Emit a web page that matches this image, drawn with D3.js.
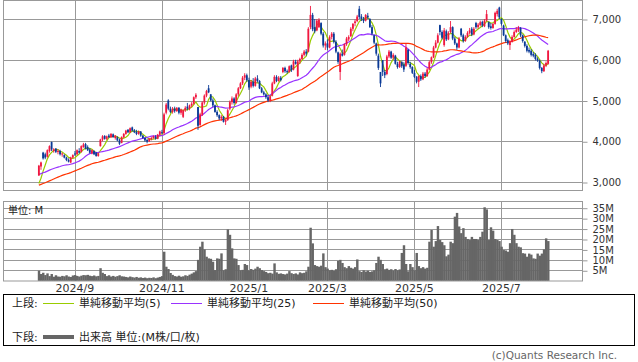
<!DOCTYPE html>
<html>
<head>
<meta charset="utf-8">
<script src="https://cdn.jsdelivr.net/npm/d3@7"></script>
<style>
  body { margin: 0; background: #fff; }
  text { font-family: "DejaVu Sans", "Noto Sans CJK JP", sans-serif; }
</style>
</head>
<body>
<div id="chart"></div>
<script>
// DATA ------------------------------------------------------------------
// first trading day shown, and the exchange holidays that fall on weekdays
const startDate = "2024-08-07";
const holidays = ["2024-08-12", "2024-09-16", "2024-09-23", "2024-10-14", "2024-11-04",
  "2024-12-31", "2025-01-01", "2025-01-02", "2025-01-03", "2025-01-13", "2025-02-11",
  "2025-02-24", "2025-03-20", "2025-04-29", "2025-05-05", "2025-05-06", "2025-07-21"];

// closes of the 49 sessions before the window (estimated from where the averages start)
const preCloses = [2580, 2620, 2600, 2650, 2700, 2680, 2640, 2610, 2590, 2630,
  2660, 2700, 2720, 2690, 2650, 2620, 2640, 2680, 2710, 2740, 2700, 2670, 2690, 2720, 2680,
  3020, 3080, 3150, 3200, 3260, 3300, 3280, 3320, 3350, 3300, 3260, 3300, 3340, 3380, 3320,
  3260, 3200, 3240, 3180, 3120, 2850, 2700, 2860, 3020];

// daily [open, high, low, close]
const candles = [
  [3160,3420,3150,3400],[3380,3500,3300,3480],[3720,3740,3550,3580],[3680,3720,3560,3600],[3620,3800,3600,3780],
  [3760,3900,3720,3880],[3980,3990,3760,3800],[3760,3830,3720,3800],[3820,3830,3710,3740],[3740,3800,3680,3760],
  [3760,3790,3650,3680],[3680,3720,3620,3700],[3660,3680,3580,3600],[3600,3620,3510,3540],[3540,3580,3480,3500],
  [3480,3620,3460,3600],[3600,3680,3580,3660],[3700,3760,3640,3680],[3680,3800,3660,3780],[3760,3830,3700,3720],
  [3740,3900,3720,3880],[3860,3960,3840,3920],[3930,3960,3800,3820],[3860,3900,3760,3780],[3800,3830,3700,3720],
  [3700,3800,3680,3780],[3760,3780,3660,3680],[3720,3740,3620,3640],[3640,3720,3620,3700],[3880,4060,3870,4040],
  [4040,4150,4000,4120],[4130,4150,4040,4060],[4060,4140,4030,4120],[4140,4180,4080,4100],[4100,4200,4080,4180],
  [4170,4190,4090,4100],[4080,4150,4040,4140],[4100,4120,4000,4020],[4020,4060,3910,3940],[3960,4120,3950,4100],
  [4100,4200,4080,4180],[4180,4280,4160,4260],[4280,4300,4200,4220],[4220,4340,4200,4320],[4340,4360,4240,4260],
  [4260,4300,4200,4220],[4230,4280,4150,4180],[4180,4260,4160,4240],[4240,4250,4110,4140],[4140,4150,4060,4080],
  [4080,4100,3990,4020],[4030,4060,3950,3990],[4000,4080,3980,4060],[4050,4110,4020,4080],[4080,4140,4060,4120],
  [4110,4150,4040,4060],[4060,4180,4050,4160],[4160,4260,4140,4240],[4220,4280,4180,4200],[4200,4700,4160,4660],
  [4700,4940,4660,4900],[5000,5030,4760,4800],[4800,4850,4690,4720],[4720,4840,4680,4800],[4800,4850,4700,4740],
  [4740,4840,4720,4820],[4820,4840,4660,4700],[4700,4800,4650,4780],[4600,4780,4570,4760],[4760,4860,4720,4820],
  [4850,4940,4760,4800],[4800,4900,4760,4880],[4880,4960,4840,4920],[4920,5100,4900,5080],[5080,5180,5040,5140],
  [4840,4840,4280,4380],[4400,4700,4380,4660],[4650,4980,4620,4950],[4950,5150,4900,5120],[5120,5260,5080,5230],
  [5300,5380,5180,5200],[5150,5160,4980,5000],[5000,5050,4840,4880],[4880,4900,4700,4720],[4720,4760,4600,4640],
  [4640,4660,4520,4560],[4560,4640,4500,4600],[4600,4620,4460,4480],[4480,4540,4400,4520],[4520,4800,4500,4760],
  [4800,5000,4760,4960],[4960,5100,4900,5050],[5050,5080,4900,4940],[4940,5180,4920,5150],[5150,5330,5100,5300],
  [5300,5450,5280,5420],[5420,5600,5380,5560],[5560,5670,5500,5620],[5620,5660,5460,5500],[5500,5560,5260,5320],
  [5340,5500,5300,5460],[5460,5550,5320,5360],[5360,5580,5340,5540],[5540,5620,5440,5480],[5480,5500,5280,5300],
  [5300,5330,5180,5200],[5200,5240,5120,5150],[5150,5180,5040,5080],[5080,5120,4960,5000],[5000,5130,4960,5100],
  [5120,5460,5100,5420],[5420,5620,5400,5580],[5580,5620,5450,5480],[5480,5600,5460,5560],[5560,5600,5470,5500],
  [5700,5820,5670,5800],[5800,5830,5680,5720],[5720,5760,5660,5700],[5700,5860,5680,5840],[5860,5880,5700,5740],
  [5760,6000,5740,5960],[5950,6000,5880,5900],[5600,6000,5580,5960],[5960,6050,5900,6020],[6020,6160,6000,6120],
  [6120,6240,6080,6200],[6200,6260,6100,6150],[6200,6800,6180,6760],[6800,7320,6750,7100],[7100,7150,6700,6750],
  [6800,7000,6650,6700],[6720,7000,6700,6960],[6800,7020,6780,6980],[6900,6920,6600,6640],[6640,6680,6300,6350],
  [6350,6450,6240,6400],[6400,6500,6240,6300],[6300,6600,6280,6560],[6560,6680,6500,6640],[6640,6680,6400,6440],
  [6440,6480,6160,6200],[6180,6200,5900,5950],[5700,6180,5500,6150],[6150,6250,6080,6100],[6120,6400,6100,6380],
  [6380,6560,6340,6520],[6500,6600,6460,6560],[6580,6800,6560,6760],[6760,6900,6700,6880],[6900,6990,6820,6940],
  [6950,7100,6920,7060],[7250,7320,7000,7050],[7060,7120,6950,7000],[7000,7050,6900,6950],[6960,7120,6940,7100],
  [7080,7150,7000,7040],[7000,7020,6780,6800],[6800,6850,6600,6640],[6600,6620,6380,6420],[6400,6420,6100,6150],
  [6100,6150,5750,5800],[5700,5700,5330,5420],[5990,5990,5600,5700],[5700,5750,5550,5620],[5650,6120,5620,6080],
  [6080,6240,6040,6200],[6200,6220,6020,6050],[6050,6160,6000,6120],[6100,6120,5880,5900],[5900,5950,5780,5820],
  [5820,5980,5800,5950],[5950,5960,5800,5840],[5880,5940,5700,5760],[5850,6410,5820,6300],[6250,6260,5880,5920],
  [5900,5950,5780,5820],[5820,5840,5650,5680],[5680,5750,5550,5580],[5580,5600,5420,5460],[5460,5620,5330,5600],
  [5600,5640,5480,5520],[5520,5700,5500,5660],[5660,5700,5560,5600],[5600,5800,5580,5760],[5760,5980,5740,5940],
  [5940,6080,5900,6060],[6060,6340,6040,6300],[6300,6480,6280,6420],[6420,6650,6400,6600],[6850,6860,6600,6680],
  [6680,6720,6500,6540],[6360,6780,6320,6720],[6700,6740,6460,6500],[6500,6700,6480,6660],[6680,6950,6650,6800],
  [6800,6820,6480,6520],[6520,6560,6360,6400],[6400,6420,6240,6300],[6300,6560,6280,6520],[6760,6780,6560,6600],
  [6600,6640,6420,6460],[6460,6600,6440,6560],[6560,6700,6540,6660],[6660,6780,6620,6720],[6760,6800,6580,6620],
  [6620,6800,6600,6760],[6900,6930,6760,6800],[6800,6900,6760,6860],[6850,6960,6820,6920],[6930,6960,6800,6840],
  [6820,7000,6800,6960],[6960,7220,6940,7120],[6920,6940,6760,6800],[6820,6900,6740,6780],[6780,6900,6760,6880],
  [6880,7180,6860,7150],[7120,7250,7060,7200],[7280,7300,7000,7040],[7000,7020,6840,6880],[6840,6860,6580,6600],
  [6600,6620,6420,6460],[6480,6520,6360,6400],[6360,6480,6240,6440],[6440,6600,6420,6560],[6560,6720,6540,6680],
  [6680,6800,6660,6740],[6720,6830,6680,6780],[6780,6800,6560,6600],[6600,6620,6420,6460],[6440,6460,6300,6340],
  [6340,6380,6180,6220],[6240,6300,6160,6200],[6220,6260,6080,6120],[6140,6190,6060,6100],[6120,6160,5980,6020],
  [6020,6060,5950,5980],[5980,6000,5760,5800],[5800,5820,5670,5720],[5720,5900,5700,5860],[5860,5960,5820,5920],
  [5900,6240,5880,6220]
];

// daily volume, millions of shares
const volume = [
  4.8,3.2,3.8,2.7,3.5,2.2,3.2,1.9,2.6,2.0, 1.9,2.3,2.1,2.6,2.0,1.8,2.5,2.7,2.3,2.0,
  2.4,2.7,2.6,2.8,2.4,2.2,2.5,2.1,2.3,6.0, 3.8,3.2,2.2,2.6,2.0,2.3,1.9,2.2,2.6,2.1,
  2.0,1.8,1.6,2.0,1.7,1.5,1.8,1.4,1.6,1.3, 1.5,1.2,1.4,1.3,1.6,1.2,1.5,1.8,2.2,13.9,
  6.7,5.6,3.7,2.8,2.2,2.0,2.4,1.9,2.1,2.6, 2.3,2.9,3.4,4.0,4.6,10.0,16.3,18.7,15.0,11.5,
  10.7,10.5,9.1,5.1,10.7,10.5,13.1,5.0,5.5,24.6, 22.0,15.5,10.7,10.5,7.5,5.0,5.2,8.0,7.5,5.0,
  5.6,5.2,5.8,6.7,6.0,5.1,4.6,4.2,3.6,3.8, 3.4,8.3,4.0,3.3,3.5,3.2,3.0,3.4,4.6,3.6,
  3.2,3.5,3.0,4.0,3.6,3.8,4.5,6.7,25.4,17.9, 7.5,7.0,6.7,7.2,13.1,6.5,5.8,5.0,5.2,4.8,
  5.5,9.5,10.0,8.5,6.5,6.0,7.0,6.2,5.8,6.5, 10.2,4.6,4.2,5.0,4.4,4.8,4.2,4.5,5.0,8.5,
  11.5,10.0,8.0,5.5,5.8,5.2,5.5,4.9,5.6,5.0, 5.4,13.3,17.0,8.0,4.5,8.0,6.5,5.0,13.3,7.0,
  6.0,6.5,5.8,6.2,18.7,24.3,16.3,19.0,26.2,19.5, 18.5,17.0,11.7,12.5,18.7,18.0,30.7,32.5,26.0,22.8,
  25.2,21.0,20.0,19.5,21.0,20.0,20.0,19.5,21.0,23.5, 35.2,34.2,19.5,25.6,24.0,20.0,19.5,19.0,16.3,14.7,
  14.5,13.9,18.0,24.8,22.0,18.0,16.3,16.0,13.2,13.0, 11.5,13.0,12.5,10.7,10.5,13.0,12.0,13.0,15.0,20.3,
  19.0
];

const maPeriods = [5, 25, 50];
const maColors = ["#99cc00", "#9933ff", "#ff3300"];
const priceTicks = [3000, 4000, 5000, 6000, 7000];
const volumeTicks = [5, 10, 15, 20, 25, 30, 35];

// DATES -----------------------------------------------------------------
const parse = d3.timeParse("%Y-%m-%d");
const fmtDay = d3.timeFormat("%Y-%m-%d");
const dates = [];
let day = parse(startDate);
while (dates.length < candles.length) {
    const wd = day.getDay();
    if (wd !== 0 && wd !== 6 && !holidays.includes(fmtDay(day))) dates.push(day);
    day = d3.timeDay.offset(day, 1);
}
// first session of every second month (Sep, Nov, Jan ...)
const tickDates = dates.filter((d, i) => i > 0 && d.getMonth() !== dates[i - 1].getMonth() && d.getMonth() % 2 === 0);

// CHART -----------------------------------------------------------------
const width = 638, height = 362;
const left = 3.5, right = 582.5;
const priceTop = 0.5, priceBottom = 190.5;
const volTop = 201.5, volBottom = 281;
const gridColor = "#999";

const svg = d3.select("#chart")
    .append("svg")
    .attr("width", width)
    .attr("height", height);

svg.append("rect").attr("width", width).attr("height", height).attr("fill", "#fff");

// scales
const x = d3.scaleBand()
    .domain(dates)
    .range([37.8, 549.2])
    .padding(0);
const cx = d => x(d) + x.bandwidth() / 2;

const y = d3.scaleLinear()
    .domain([2804, 7466])
    .range([190, 0]);

const yVol = d3.scaleLinear()
    .domain([0, 35])
    .range([280.7, 207.7]);

const snap = v => Math.round(v) + 0.5;

// grid for both panels
function grid(top, bottom, ticks, scale) {
    const g = svg.append("g").attr("stroke", gridColor).attr("stroke-width", 1);
    g.selectAll(".h").data(ticks).join("line")
        .attr("x1", left).attr("x2", right)
        .attr("y1", d => snap(scale(d))).attr("y2", d => snap(scale(d)));
    g.selectAll(".v").data(tickDates).join("line")
        .attr("x1", d => snap(cx(d))).attr("x2", d => snap(cx(d)))
        .attr("y1", top).attr("y2", bottom);
    g.append("rect")
        .attr("x", left).attr("y", top)
        .attr("width", right - left).attr("height", bottom - top)
        .attr("fill", "none");
}
grid(priceTop, priceBottom, priceTicks, y);
grid(volTop, volBottom, volumeTicks, yVol);

// right axes
function styleAxis(g, size) {
    g.select(".domain").remove();
    g.selectAll(".tick line").attr("stroke", gridColor);
    g.selectAll(".tick text").attr("fill", "#333").attr("font-size", size)
        .attr("font-family", '"DejaVu Sans", sans-serif');
}
svg.append("g")
    .attr("transform", "translate(" + right + ",0.5)")
    .call(d3.axisRight(y).tickValues(priceTicks).tickSize(5).tickPadding(5).tickFormat(d3.format(",")))
    .call(g => styleAxis(g, 10));

svg.append("g")
    .attr("transform", "translate(" + right + ",0.5)")
    .call(d3.axisRight(yVol).tickValues(volumeTicks).tickSize(5).tickPadding(5).tickFormat(d => d + "M"))
    .call(g => styleAxis(g, 10));

svg.append("g")
    .attr("transform", "translate(0," + volBottom + ")")
    .call(d3.axisBottom(x).tickValues(tickDates).tickSize(0).tickPadding(3).tickFormat(d3.timeFormat("%Y/%-m")))
    .call(g => styleAxis(g, 11));

// volume bars
svg.append("g")
    .attr("fill", "#666")
    .selectAll("rect")
    .data(volume)
    .join("rect")
    .attr("x", (d, i) => x(dates[i]))
    .attr("width", x.bandwidth() + 0.3)
    .attr("y", d => yVol(d))
    .attr("height", d => yVol(0) - yVol(d));

svg.append("text")
    .attr("x", 8).attr("y", 213.5)
    .attr("font-size", 10).attr("fill", "#222")
    .text("単位: M");

// moving averages
const allCloses = preCloses.concat(candles.map(c => c[3]));
const offset = preCloses.length;
maPeriods.forEach((n, k) => {
    const ma = candles.map((c, i) => d3.mean(allCloses.slice(offset + i - n + 1, offset + i + 1)));
    svg.append("path")
        .datum(ma)
        .attr("fill", "none")
        .attr("stroke", maColors[k])
        .attr("stroke-width", 1.2)
        .attr("d", d3.line().x((d, i) => cx(dates[i])).y(d => y(d)));
});

// candles
const up = "#f0173f", down = "#0a3a96";
const candle = svg.append("g")
    .selectAll("g")
    .data(candles)
    .join("g")
    .attr("fill", d => d[3] >= d[0] ? up : down)
    .attr("stroke", d => d[3] >= d[0] ? up : down);

candle.append("line")
    .attr("x1", (d, i) => cx(dates[i])).attr("x2", (d, i) => cx(dates[i]))
    .attr("y1", d => y(d[1])).attr("y2", d => y(d[2]))
    .attr("stroke-width", 0.9);

candle.append("rect")
    .attr("stroke", "none")
    .attr("x", (d, i) => cx(dates[i]) - 0.9)
    .attr("width", 1.8)
    .attr("y", d => y(Math.max(d[0], d[3])))
    .attr("height", d => Math.max(1, Math.abs(y(d[0]) - y(d[3]))));

// legend
const legend = svg.append("g");
legend.append("rect")
    .attr("x", 3.5).attr("y", 294.5).attr("width", 631).attr("height", 51)
    .attr("fill", "none").attr("stroke", "#000");

legend.append("text").attr("x", 12).attr("y", 307).attr("font-size", 11).attr("fill", "#222").text("上段:");
const maLegendX = [43, 171, 313];
maPeriods.forEach((n, k) => {
    legend.append("line")
        .attr("x1", maLegendX[k]).attr("x2", maLegendX[k] + 31)
        .attr("y1", 303.5).attr("y2", 303.5)
        .attr("stroke", maColors[k]).attr("stroke-width", 1);
    legend.append("text")
        .attr("x", maLegendX[k] + 36).attr("y", 307)
        .attr("font-size", 11).attr("fill", "#222")
        .text("単純移動平均(" + n + ")");
});

legend.append("text").attr("x", 12).attr("y", 341).attr("font-size", 11).attr("fill", "#222").text("下段:");
legend.append("line")
    .attr("x1", 43).attr("x2", 74).attr("y1", 337).attr("y2", 337)
    .attr("stroke", "#666").attr("stroke-width", 4);
legend.append("text").attr("x", 79).attr("y", 341).attr("font-size", 11).attr("fill", "#222")
    .text("出来高 単位:(M株/口/枚)");

svg.append("text")
    .attr("x", 617).attr("y", 359)
    .attr("text-anchor", "end")
    .attr("font-size", 10.5)
    .attr("font-family", '"Liberation Sans", sans-serif')
    .attr("fill", "#666")
    .text("(c)Quants Research Inc.");
</script>
</body>
</html>
